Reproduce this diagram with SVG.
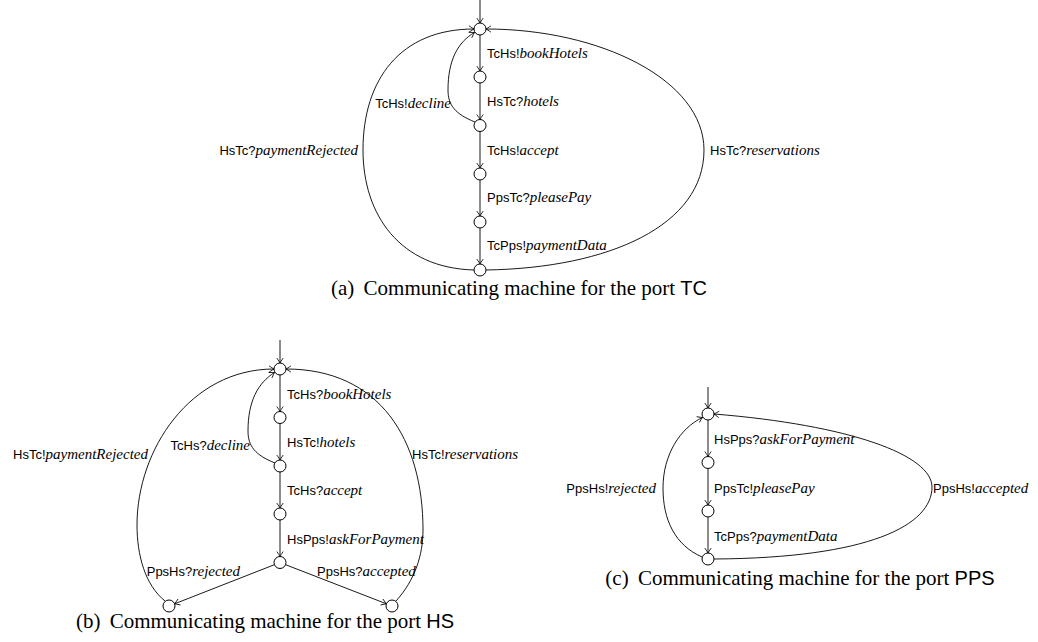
<svg xmlns="http://www.w3.org/2000/svg" width="1038" height="642" viewBox="0 0 1038 642">
<style>
.st{fill:#fff;stroke:#000;stroke-width:1}
.e{fill:none;stroke:#000;stroke-width:0.9}
.lb{font-family:"Liberation Sans",Arial,sans-serif;font-size:13px;fill:#000}
.it{font-family:"Liberation Serif","Times New Roman",serif;font-style:italic;font-size:15px}
.cap{font-family:"Liberation Serif","Times New Roman",serif;font-size:21px;fill:#000}
.sf{font-family:"Liberation Sans",Arial,sans-serif;font-size:20px}
</style>
<defs>
<marker id="arr" viewBox="-6 -4 7 8" refX="0" refY="0" markerWidth="7" markerHeight="8" markerUnits="userSpaceOnUse" orient="auto">
<path d="M -5 -3.2 Q -1.5 -0.8 0 0 Q -1.5 0.8 -5 3.2" fill="none" stroke="#000" stroke-width="0.8"/>
</marker>
</defs>
<rect width="1038" height="642" fill="#fff"/>

<g id="connectors">
<!-- (a) -->
<path class="e" marker-end="url(#arr)" d="M 480 0 L 480 23"/>
<path class="e" marker-end="url(#arr)" d="M 480 35 L 480 71"/>
<path class="e" marker-end="url(#arr)" d="M 480 83 L 480 119.5"/>
<path class="e" marker-end="url(#arr)" d="M 480 131.5 L 480 168"/>
<path class="e" marker-end="url(#arr)" d="M 480 180 L 480 216"/>
<path class="e" marker-end="url(#arr)" d="M 480 228 L 480 264"/>
<path class="e" marker-end="url(#arr)" d="M 475 122 C 455 114, 448 105, 448 90 C 448 60, 458 42, 474.5 32.5"/>
<path class="e" marker-end="url(#arr)" d="M 474 270 C 400 268, 363 215, 363 150 C 363 80, 400 29, 474 29"/>
<path class="e" marker-end="url(#arr)" d="M 486 270 C 610 268, 704 225, 704 150 C 704 80, 600 29, 486 29"/>
<!-- (b) -->
<path class="e" marker-end="url(#arr)" d="M 280 340 L 280 363"/>
<path class="e" marker-end="url(#arr)" d="M 280 375 L 280 411.5"/>
<path class="e" marker-end="url(#arr)" d="M 280 423.5 L 280 460"/>
<path class="e" marker-end="url(#arr)" d="M 280 472 L 280 508"/>
<path class="e" marker-end="url(#arr)" d="M 280 520 L 280 556.5"/>
<path class="e" marker-end="url(#arr)" d="M 274.4 564.7 L 174.6 603.8"/>
<path class="e" marker-end="url(#arr)" d="M 285.6 564.7 L 386.4 603.8"/>
<path class="e" marker-end="url(#arr)" d="M 275 463 C 255 455, 248 446, 248 431 C 248 401, 258 383, 274.5 372.5"/>
<path class="e" marker-end="url(#arr)" d="M 165 601 C 145 585, 137 555, 137 525 C 137 450, 190 369, 274 369"/>
<path class="e" marker-end="url(#arr)" d="M 396 601 C 415 580, 423 555, 423 530 C 423 440, 380 369, 286 369"/>
<!-- (c) -->
<path class="e" marker-end="url(#arr)" d="M 708 387 L 708 408"/>
<path class="e" marker-end="url(#arr)" d="M 708 420 L 708 456.5"/>
<path class="e" marker-end="url(#arr)" d="M 708 468.5 L 708 505"/>
<path class="e" marker-end="url(#arr)" d="M 708 517 L 708 553"/>
<path class="e" marker-end="url(#arr)" d="M 702 557 C 675 545, 663 520, 663 488 C 663 455, 680 428, 702.5 417.5"/>
<path class="e" marker-end="url(#arr)" d="M 714 559 C 870 558, 932 525, 932 487 C 932 455, 850 425, 714 414"/>
</g>

<g id="edge-labels" class="lb">
<!-- (a) -->
<text x="487" y="58">TcHs!<tspan class="it">bookHotels</tspan></text>
<text x="487" y="106">HsTc?<tspan class="it">hotels</tspan></text>
<text x="487" y="155">TcHs!<tspan class="it">accept</tspan></text>
<text x="487" y="202">PpsTc?<tspan class="it">pleasePay</tspan></text>
<text x="487" y="250">TcPps!<tspan class="it">paymentData</tspan></text>
<text x="451" y="108" text-anchor="end">TcHs!<tspan class="it">decline</tspan></text>
<text x="358" y="155" text-anchor="end">HsTc?<tspan class="it">paymentRejected</tspan></text>
<text x="710" y="155">HsTc?<tspan class="it">reservations</tspan></text>
<!-- (b) -->
<text x="287" y="399">TcHs?<tspan class="it">bookHotels</tspan></text>
<text x="287" y="447">HsTc!<tspan class="it">hotels</tspan></text>
<text x="287" y="495">TcHs?<tspan class="it">accept</tspan></text>
<text x="287" y="544">HsPps!<tspan class="it">askForPayment</tspan></text>
<text x="250" y="450" text-anchor="end">TcHs?<tspan class="it">decline</tspan></text>
<text x="148" y="459" text-anchor="end">HsTc!<tspan class="it">paymentRejected</tspan></text>
<text x="412" y="459">HsTc!<tspan class="it">reservations</tspan></text>
<text x="240" y="576" text-anchor="end">PpsHs?<tspan class="it">rejected</tspan></text>
<text x="317" y="576">PpsHs?<tspan class="it">accepted</tspan></text>
<!-- (c) -->
<text x="714" y="444">HsPps?<tspan class="it">askForPayment</tspan></text>
<text x="714" y="493">PpsTc!<tspan class="it">pleasePay</tspan></text>
<text x="714" y="541">TcPps?<tspan class="it">paymentData</tspan></text>
<text x="656" y="493" text-anchor="end">PpsHs!<tspan class="it">rejected</tspan></text>
<text x="933" y="493">PpsHs!<tspan class="it">accepted</tspan></text>
</g>

<g id="a-s0"><circle class="st" cx="480" cy="29" r="6"/></g>
<g id="a-s1"><circle class="st" cx="480" cy="77" r="6"/></g>
<g id="a-s2"><circle class="st" cx="480" cy="125.5" r="6"/></g>
<g id="a-s3"><circle class="st" cx="480" cy="174" r="6"/></g>
<g id="a-s4"><circle class="st" cx="480" cy="222" r="6"/></g>
<g id="a-s5"><circle class="st" cx="480" cy="270" r="6"/></g>

<g id="b-s0"><circle class="st" cx="280" cy="369" r="6"/></g>
<g id="b-s1"><circle class="st" cx="280" cy="417.5" r="6"/></g>
<g id="b-s2"><circle class="st" cx="280" cy="466" r="6"/></g>
<g id="b-s3"><circle class="st" cx="280" cy="514" r="6"/></g>
<g id="b-s4"><circle class="st" cx="280" cy="562.5" r="6"/></g>
<g id="b-s5"><circle class="st" cx="169" cy="606" r="6"/></g>
<g id="b-s6"><circle class="st" cx="392" cy="606" r="6"/></g>

<g id="c-s0"><circle class="st" cx="708" cy="414" r="6"/></g>
<g id="c-s1"><circle class="st" cx="708" cy="462.5" r="6"/></g>
<g id="c-s2"><circle class="st" cx="708" cy="511" r="6"/></g>
<g id="c-s3"><circle class="st" cx="708" cy="559" r="6"/></g>

<g id="captions" class="cap">
<text x="519" y="295" text-anchor="middle">(a)<tspan dx="4"> Communicating machine for the port </tspan><tspan class="sf">TC</tspan></text>
<text x="265" y="628" text-anchor="middle">(b)<tspan dx="4"> Communicating machine for the port </tspan><tspan class="sf">HS</tspan></text>
<text x="800" y="585" text-anchor="middle">(c)<tspan dx="4"> Communicating machine for the port </tspan><tspan class="sf">PPS</tspan></text>
</g>
</svg>
